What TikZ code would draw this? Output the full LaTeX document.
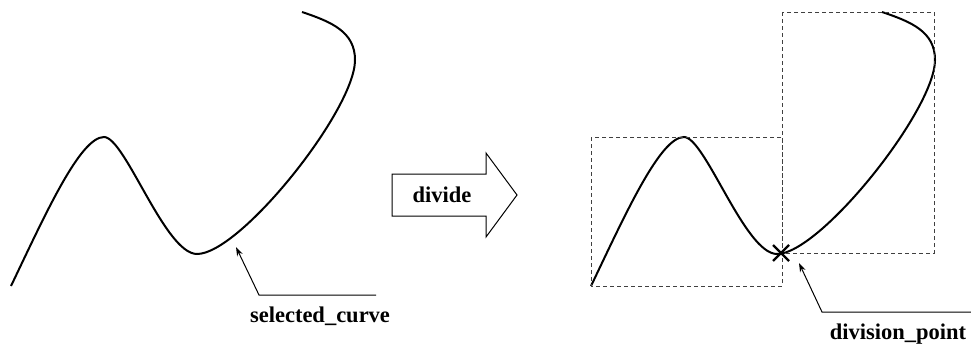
\documentclass[tikz,border=0pt]{standalone}
\usepackage{fontspec}
\setmainfont{Liberation Serif}
\usetikzlibrary{arrows.meta}

\tikzset{
  curveline/.style={line width=2pt},
  boxline/.style={line width=1pt, black!75, dash pattern=on 4pt off 3pt},
  leader/.style={line width=1pt},
  lbl/.style={font=\bfseries\fontsize{22.5}{26}\selectfont, inner sep=0pt}
}

% the curve before and after dividing
\newcommand{\curvepath}{(11,286) .. controls (45,215) and (80,137) .. (104,137)
  .. controls (125,137) and (165,254) .. (197,254)
  .. controls (240,254) and (355,110) .. (355,60)
  .. controls (355,32) and (332,22) .. (302,12)}

\begin{document}
\begin{tikzpicture}[x=1pt, y=-1pt, >={Stealth[length=9pt, width=6pt]}]
  \useasboundingbox (0,0) rectangle (971,349);

  % selected curve
  \draw[curveline] \curvepath;
  \coordinate (selbend) at (259,295);
  \coordinate (seltip) at (236,247);
  \node[lbl, anchor=base] (sellabel) at (320,322) {selected\_curve};
  \draw[leader, ->] (376,295) -- (selbend) -- (seltip);

  % divide arrow
  \draw[leader] (392,174) -- (486,174) -- (486,153) -- (517,195)
    -- (486,237) -- (486,216) -- (392,216) -- cycle;
  \node[lbl] (divide) at (442,195) {divide};

  % divided curve
  \begin{scope}[xshift=580pt]
    \draw[curveline] \curvepath;
  \end{scope}
  \draw[boxline] (591,137) rectangle (782,286);
  \draw[boxline] (782,12) rectangle (934,253);
  \coordinate (divpt) at (781,253);
  \draw[line width=2.4pt] ([shift={(-8,-8)}]divpt) -- ([shift={(8,8)}]divpt)
    ([shift={(-8,8)}]divpt) -- ([shift={(8,-8)}]divpt);
  \coordinate (divbend) at (822,312);
  \coordinate (divtip) at (799,263);
  \node[lbl, anchor=base] (divlabel) at (898,339) {division\_point};
  \draw[leader, ->] (971,312) -- (divbend) -- (divtip);
\end{tikzpicture}
\end{document}
